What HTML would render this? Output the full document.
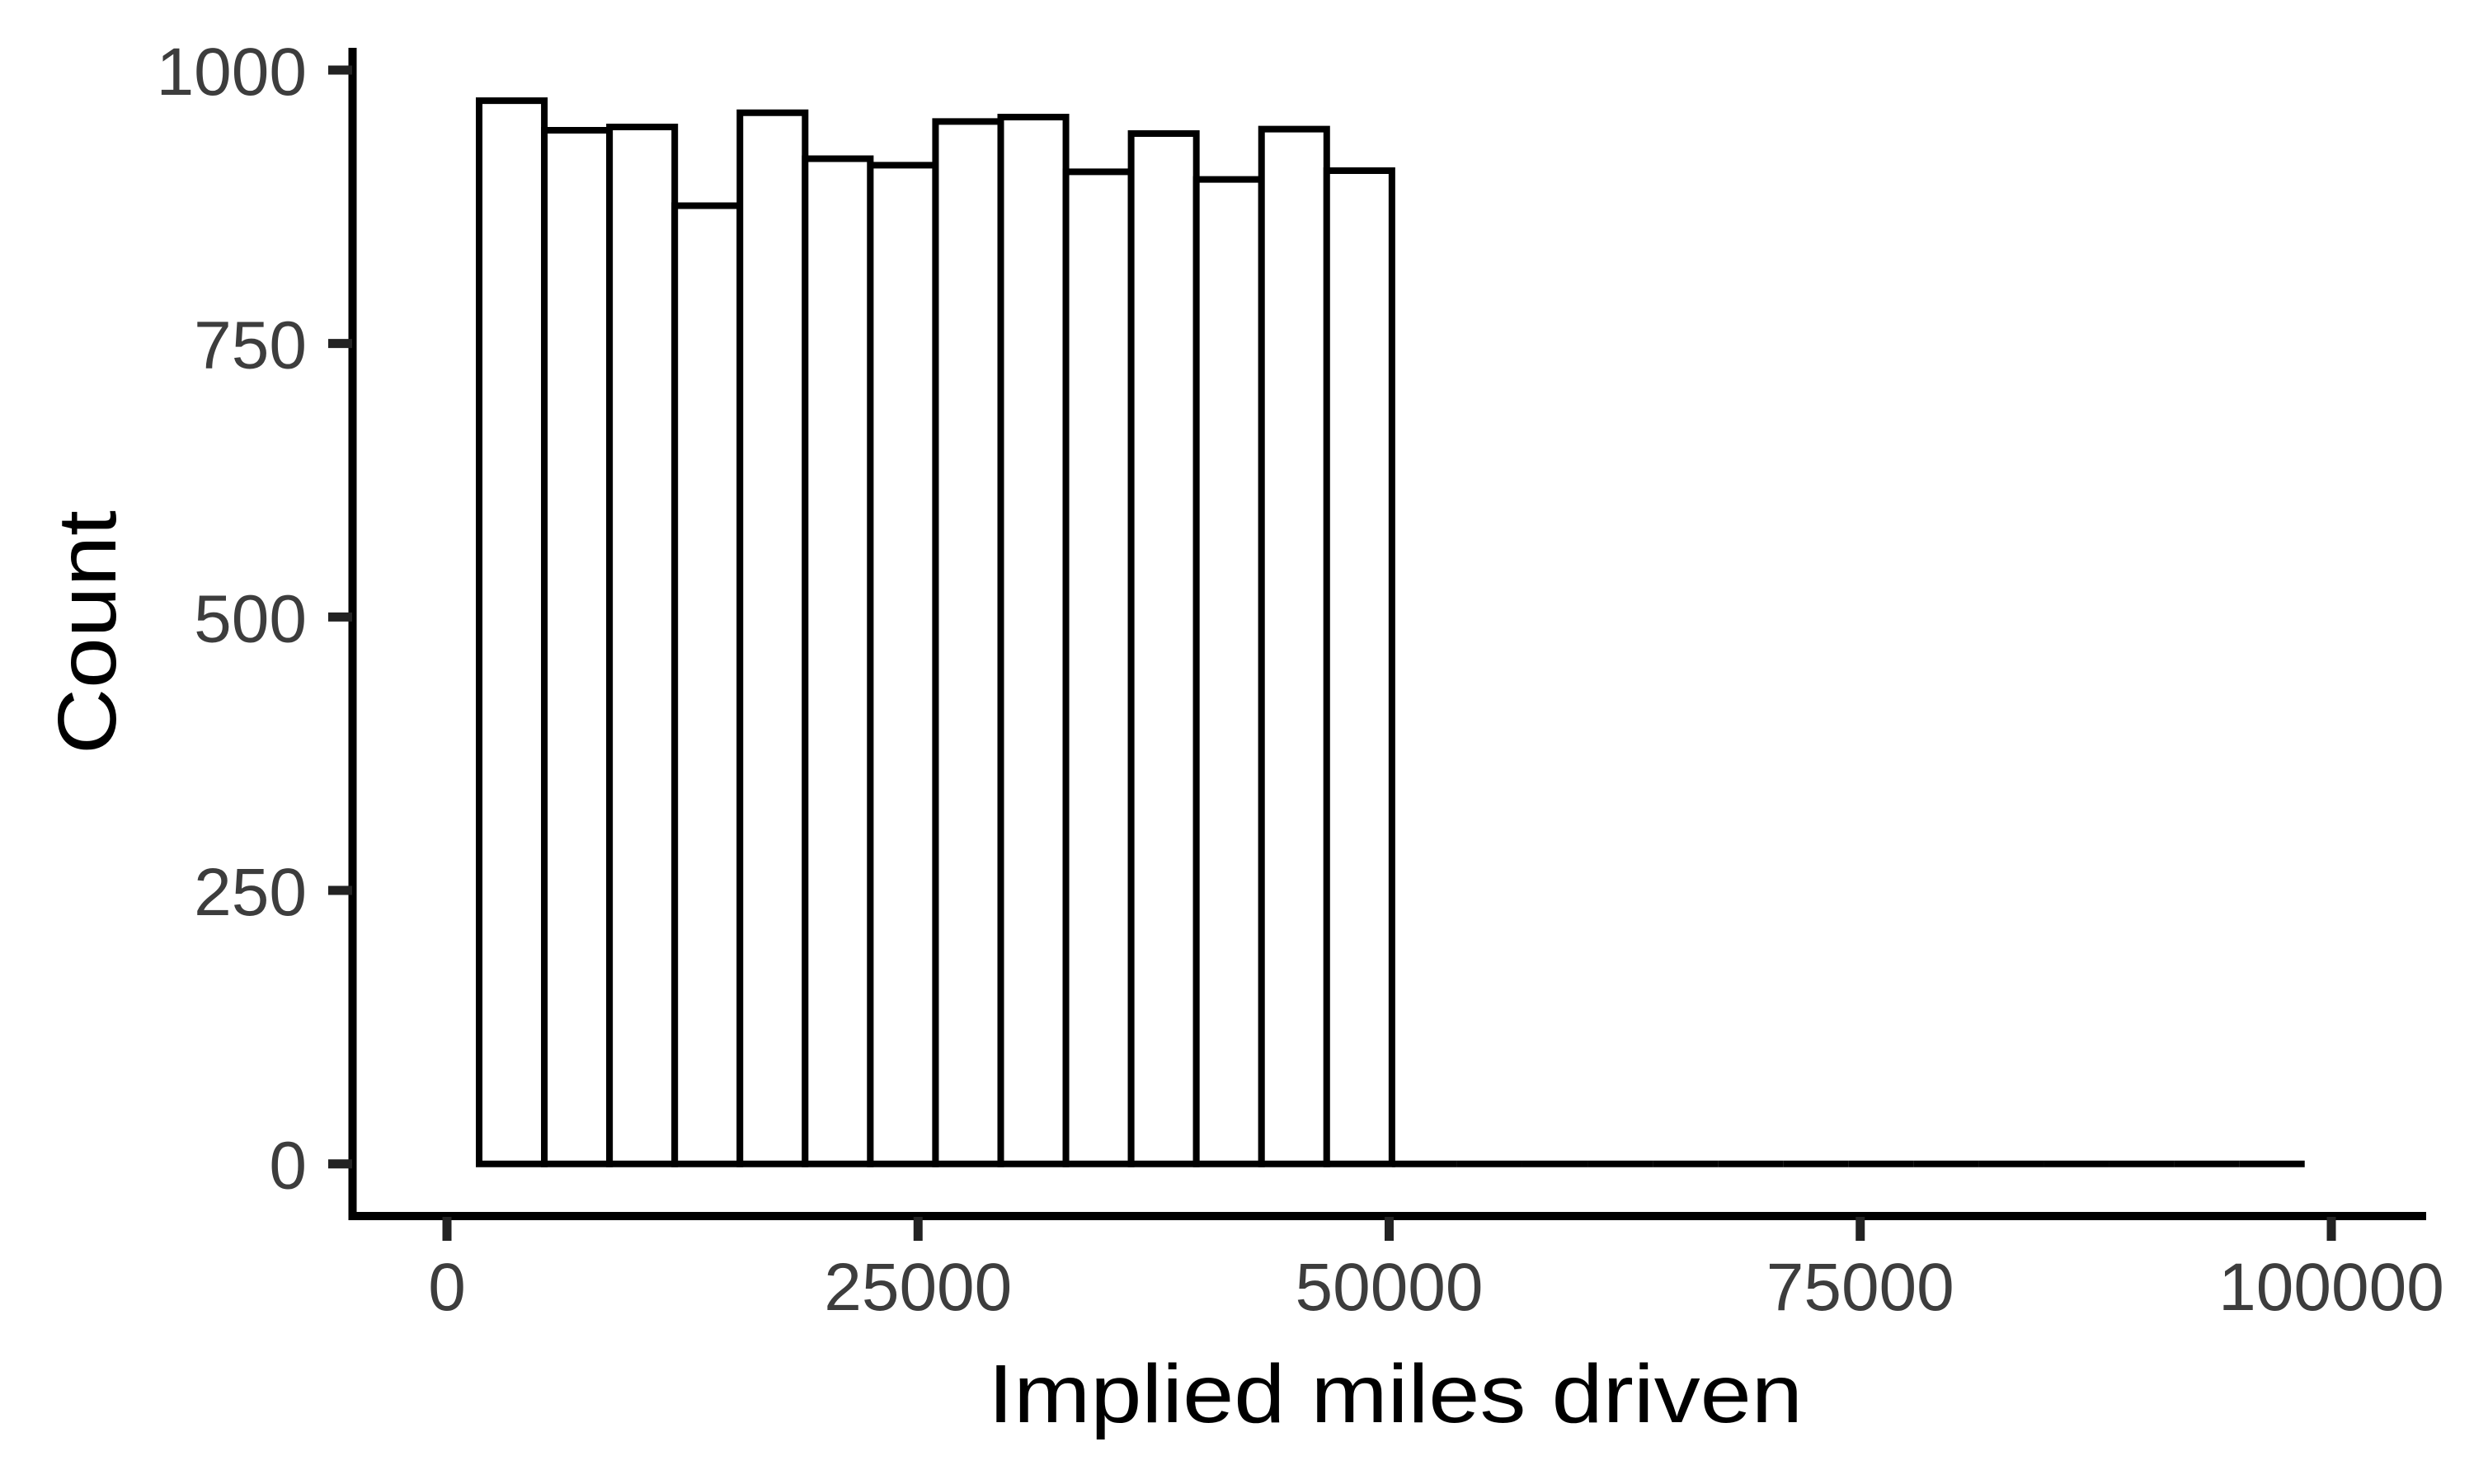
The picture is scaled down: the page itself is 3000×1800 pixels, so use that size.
<!DOCTYPE html>
<html><head><meta charset="utf-8"><style>
html,body{margin:0;padding:0;background:#fff;}
svg{display:block;}
text{font-family:"Liberation Sans",sans-serif;}
</style></head><body>
<svg id="chart" width="3000" height="1800" viewBox="0 0 3000 1800">
<g id="bars"></g>
<line x1="427.5" y1="58" x2="427.5" y2="1480" stroke="#000" stroke-width="10"/>
<line x1="423" y1="1475" x2="2942" y2="1475" stroke="#000" stroke-width="10"/>
<g id="yticks"></g>
<g id="xticks"></g>
<text x="1692" y="1725" font-size="100" text-anchor="middle" fill="#000" textLength="988" lengthAdjust="spacingAndGlyphs">Implied miles driven</text>
<text transform="translate(140,767) rotate(-90)" font-size="100" text-anchor="middle" fill="#000" textLength="296" lengthAdjust="spacingAndGlyphs">Count</text>
</svg>
<script>
const binStart = 1707;
const binWidth = 3460;
const counts = [972, 945, 948, 876, 961, 919, 913, 953, 957, 907, 942, 900, 946, 908, 0, 0, 0, 0, 0, 0, 0, 0, 0, 0, 0, 0, 0, 0];
const yTicks = [0, 250, 500, 750, 1000];
const yTickLabels = ["0", "250", "500", "750", "1000"];
const xTicks = [0, 25000, 50000, 75000, 100000];
const xTickLabels = ["0", "25000", "50000", "75000", "100000"];

const NS = "http://www.w3.org/2000/svg";
function xs(v){ return 542 + v * 0.02285; }
function ys(v){ return 1411.7 - v * 1.3267; }

const barsG = document.getElementById('bars');
counts.forEach((c, i) => {
  const x0 = xs(binStart + i * binWidth), x1 = xs(binStart + (i + 1) * binWidth);
  const yb = ys(0), yt = ys(c);
  const p = document.createElementNS(NS, 'path');
  p.setAttribute('d', `M${x0},${yb} L${x0},${yt} L${x1},${yt} L${x1},${yb} Z`);
  p.setAttribute('fill', '#fff'); p.setAttribute('stroke', '#000'); p.setAttribute('stroke-width', '8');
  p.setAttribute('stroke-linejoin', 'miter');
  
  
  barsG.appendChild(p);
});

const yG = document.getElementById('yticks');
yTicks.forEach((v, i) => {
  const y = ys(v);
  const l = document.createElementNS(NS, 'line');
  l.setAttribute('x1', 398); l.setAttribute('x2', 427); l.setAttribute('y1', y); l.setAttribute('y2', y);
  l.setAttribute('stroke', '#222'); l.setAttribute('stroke-width', '11');
  
  
  yG.appendChild(l);
  const t = document.createElementNS(NS, 'text');
  t.setAttribute('x', 372); t.setAttribute('y', y + 30);
  t.setAttribute('font-size', '82'); t.setAttribute('text-anchor', 'end'); t.setAttribute('fill', '#3d3d3d');
  t.textContent = yTickLabels[i];
  
  
  yG.appendChild(t);
});

const xG = document.getElementById('xticks');
xTicks.forEach((v, i) => {
  const x = xs(v);
  const l = document.createElementNS(NS, 'line');
  l.setAttribute('x1', x); l.setAttribute('x2', x); l.setAttribute('y1', 1476); l.setAttribute('y2', 1505);
  l.setAttribute('stroke', '#222'); l.setAttribute('stroke-width', '11');
  
  
  xG.appendChild(l);
  const t = document.createElementNS(NS, 'text');
  t.setAttribute('x', x); t.setAttribute('y', 1589);
  t.setAttribute('font-size', '82'); t.setAttribute('text-anchor', 'middle'); t.setAttribute('fill', '#3d3d3d');
  t.textContent = xTickLabels[i];
  
  
  xG.appendChild(t);
});
</script>
</body></html>
